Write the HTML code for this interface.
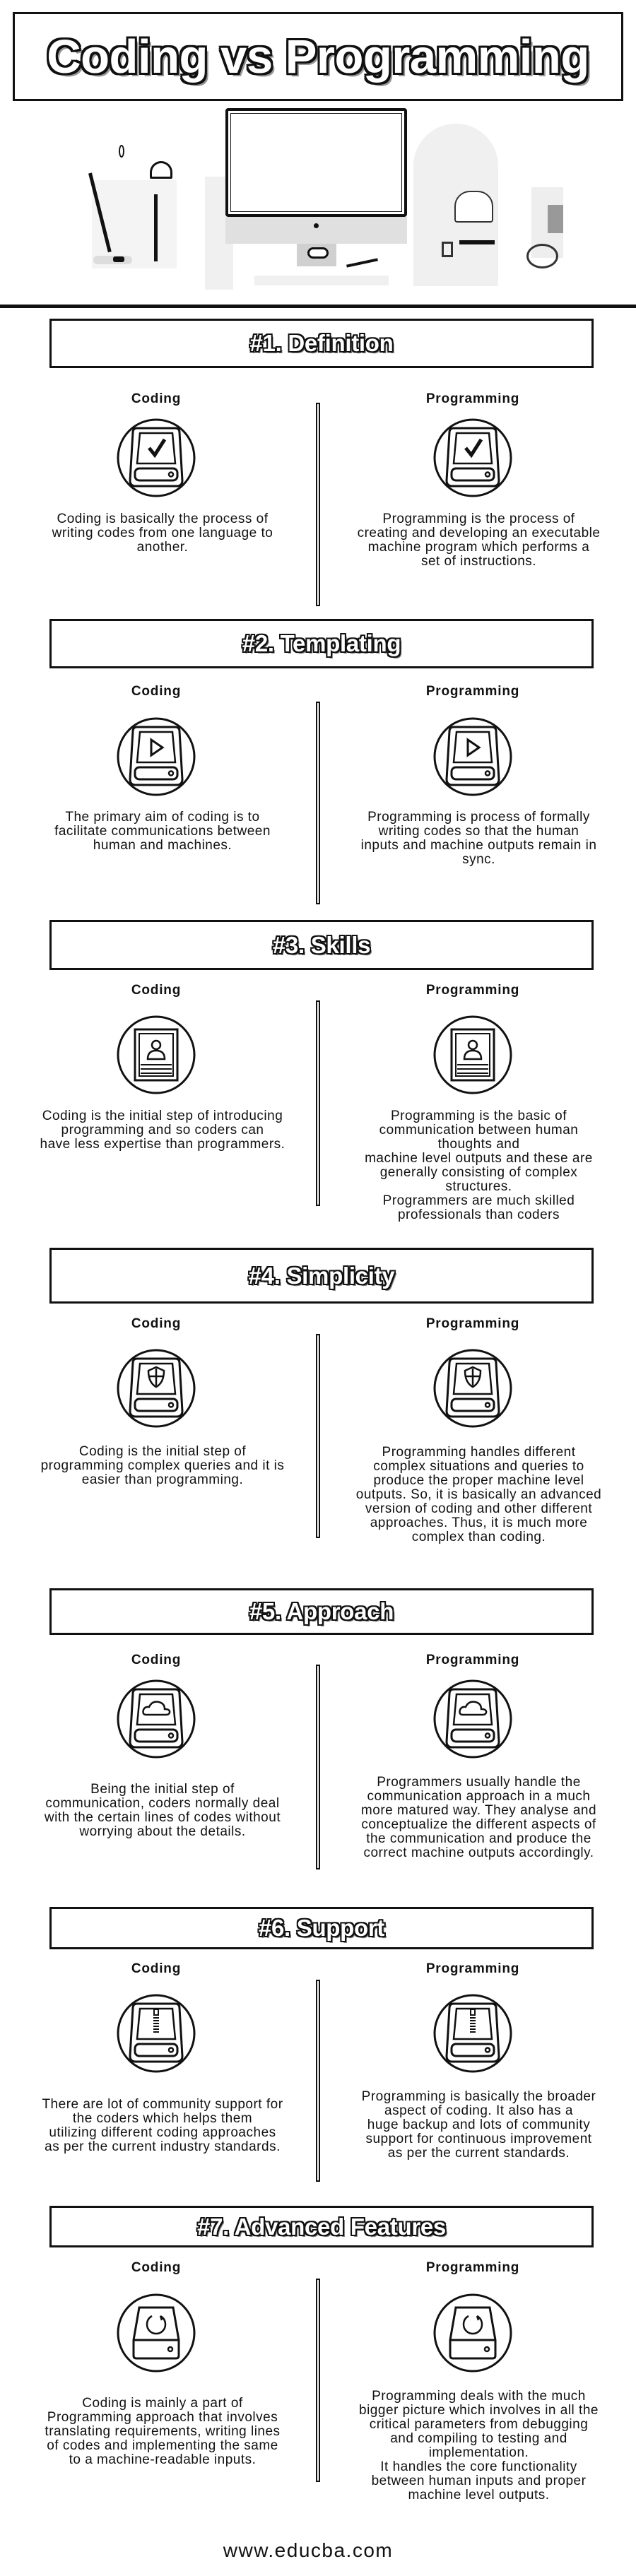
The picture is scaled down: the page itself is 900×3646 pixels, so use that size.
<!DOCTYPE html>
<html><head><meta charset="utf-8">
<style>
*{margin:0;padding:0;box-sizing:border-box}
body{width:900px;height:3646px;background:#fff;position:relative;overflow:hidden;font-family:"Liberation Sans",sans-serif;color:#111}
.abs{position:absolute}
.tbox{position:absolute;left:70px;width:770px;border:3px solid #111;display:flex;align-items:center;justify-content:center}
.ttl{font-weight:bold;font-size:33px;color:#fff;letter-spacing:-0.3px;
text-shadow:2px 0 #111,-2px 0 #111,0 2px #111,0 -2px #111,2px 2px #111,-2px -2px #111,2px -2px #111,-2px 2px #111,3px 3px #888}
.hdr{position:absolute;width:300px;text-align:center;font-weight:bold;font-size:19px;letter-spacing:0.8px;line-height:20px}
.hc{left:71px}.hp{left:519px}
.div{position:absolute;left:447px;width:6px;border:2px solid #111;background:#fff}
.txt{position:absolute;text-align:center;font-size:19px;letter-spacing:0.5px;line-height:20px;white-space:nowrap}
.tc{left:10px;width:440px}.tp{left:455px;width:445px}
svg.ic{position:absolute;width:116px;height:116px;overflow:visible}
.icc{left:163px}.icp{left:611px}
</style></head><body>
<svg width="0" height="0" style="position:absolute">
<defs>
<g id="drv" fill="none" stroke="#111">
<circle cx="0" cy="0" r="54" stroke-width="3"/>
<path d="M-27,-42 L27,-42 Q33,-42 33,-36 L37,32 Q37,40 29,40 L-29,40 Q-37,40 -37,32 L-33,-36 Q-33,-42 -27,-42 Z" stroke-width="3"/>
<path d="M-23,-35 L23,-35 L27,8 L-27,8 Z" stroke-width="2.5"/>
<rect x="-30" y="15" width="60" height="17" rx="6" stroke-width="3"/>
<circle cx="21" cy="23.5" r="3" stroke-width="2.5"/>
</g>
</defs>
</svg>

<!-- Title -->
<div class="abs" style="left:18px;top:17px;width:864px;height:126px;border:3px solid #111;display:flex;align-items:center;justify-content:center">
<span style="font-weight:bold;font-size:67px;color:#fff;letter-spacing:-0.5px;text-shadow:3px 0 #111,-3px 0 #111,0 3px #111,0 -3px #111,3px 3px #111,-3px -3px #111,3px -3px #111,-3px 3px #111,5px 5px #999">Coding vs Programming</span>
</div>

<!-- Illustration -->
<div class="abs" style="left:585px;top:175px;width:120px;height:230px;background:#f0f0f0;border-radius:60px 60px 0 0"></div>
<div class="abs" style="left:290px;top:250px;width:40px;height:160px;background:#f0f0f0"></div>
<div class="abs" style="left:130px;top:255px;width:120px;height:125px;background:#f4f4f4"></div>
<div class="abs" style="left:319px;top:153px;width:257px;height:154px;border:4px solid #111;border-radius:4px;background:#fff"></div>
<div class="abs" style="left:326px;top:160px;width:243px;height:140px;border:1.5px solid #111"></div>
<div class="abs" style="left:319px;top:307px;width:257px;height:38px;background:#e0e0e0"></div>
<div class="abs" style="left:444px;top:316px;width:7px;height:7px;border-radius:50%;background:#111"></div>
<div class="abs" style="left:420px;top:345px;width:56px;height:32px;background:#d0d0d0"></div>
<div class="abs" style="left:435px;top:350px;width:30px;height:16px;border:3px solid #111;border-radius:8px;background:#fff"></div>
<div class="abs" style="left:360px;top:390px;width:190px;height:14px;background:#f0f0f0"></div>
<div class="abs" style="left:490px;top:370px;width:45px;height:4px;background:#111;transform:rotate(-12deg)"></div>
<div class="abs" style="left:643px;top:270px;width:55px;height:45px;border:2px solid #333;border-radius:22px 22px 4px 4px;background:#fff"></div>
<div class="abs" style="left:650px;top:340px;width:50px;height:6px;background:#111"></div>
<div class="abs" style="left:625px;top:342px;width:16px;height:22px;border:3px solid #333"></div>
<div class="abs" style="left:752px;top:265px;width:45px;height:100px;background:#eee"></div>
<div class="abs" style="left:775px;top:290px;width:22px;height:40px;background:#999"></div>
<div class="abs" style="left:745px;top:345px;width:45px;height:35px;border:3px solid #333;border-radius:50%"></div>
<div class="abs" style="left:125px;top:245px;width:5px;height:115px;background:#111;transform:rotate(-14deg);transform-origin:top"></div>
<div class="abs" style="left:218px;top:275px;width:5px;height:95px;background:#111"></div>
<div class="abs" style="left:212px;top:228px;width:32px;height:25px;border:3px solid #111;border-radius:16px 16px 2px 2px"></div>
<div class="abs" style="left:132px;top:362px;width:55px;height:12px;background:#ddd;border-radius:6px"></div>
<div class="abs" style="left:160px;top:363px;width:16px;height:8px;background:#111;border-radius:3px"></div>
<div class="abs" style="left:168px;top:205px;width:8px;height:18px;border:2px solid #111;border-radius:50%"></div>

<div class="abs" style="left:0;top:431px;width:900px;height:5px;background:#111"></div>

<!-- S1 -->
<div class="tbox" style="top:451px;height:70px"><span class="ttl">#1. Definition</span></div>
<div class="hdr hc" style="top:555px">Coding</div>
<div class="hdr hp" style="top:555px">Programming</div>
<div class="div" style="top:570px;height:288px"></div>
<svg class="ic icc" style="top:590px" viewBox="-58 -58 116 116"><use href="#drv"/><path d="M-10,-14 L-2,-4 L12,-26" fill="none" stroke="#111" stroke-width="5"/></svg>
<svg class="ic icp" style="top:590px" viewBox="-58 -58 116 116"><use href="#drv"/><path d="M-10,-14 L-2,-4 L12,-26" fill="none" stroke="#111" stroke-width="5"/></svg>
<div class="txt tc" style="top:725px">Coding is basically the process of<br>writing codes from one language to<br>another.</div>
<div class="txt tp" style="top:725px">Programming is the process of<br>creating and developing an executable<br>machine program which performs a<br>set of instructions.</div>

<!-- S2 -->
<div class="tbox" style="top:876px;height:70px"><span class="ttl">#2. Templating</span></div>
<div class="hdr hc" style="top:969px">Coding</div>
<div class="hdr hp" style="top:969px">Programming</div>
<div class="div" style="top:993px;height:287px"></div>
<svg class="ic icc" style="top:1013px" viewBox="-58 -58 116 116"><use href="#drv"/><path d="M-7,-24 L9,-13 L-7,-2 Z" fill="none" stroke="#111" stroke-width="3"/></svg>
<svg class="ic icp" style="top:1013px" viewBox="-58 -58 116 116"><use href="#drv"/><path d="M-7,-24 L9,-13 L-7,-2 Z" fill="none" stroke="#111" stroke-width="3"/></svg>
<div class="txt tc" style="top:1147px">The primary aim of coding is to<br>facilitate communications between<br>human and machines.</div>
<div class="txt tp" style="top:1147px">Programming is process of formally<br>writing codes so that the human<br>inputs and machine outputs remain in<br>sync.</div>

<!-- S3 -->
<div class="tbox" style="top:1302px;height:71px"><span class="ttl">#3. Skills</span></div>
<div class="hdr hc" style="top:1392px">Coding</div>
<div class="hdr hp" style="top:1392px">Programming</div>
<div class="div" style="top:1416px;height:291px"></div>
<svg class="ic icc" style="top:1435px" viewBox="-58 -58 116 116"><circle r="54" fill="none" stroke="#111" stroke-width="3"/><rect x="-30" y="-36" width="60" height="72" fill="none" stroke="#111" stroke-width="3"/><rect x="-24" y="-30" width="48" height="60" fill="none" stroke="#111" stroke-width="2"/><circle cx="0" cy="-14" r="6" fill="none" stroke="#111" stroke-width="2.5"/><path d="M-12,6 Q-12,-6 0,-6 Q12,-6 12,6 Z" fill="none" stroke="#111" stroke-width="2.5"/><path d="M-22,14 H22 M-22,20 H22 M-22,26 H22" stroke="#111" stroke-width="2"/></svg>
<svg class="ic icp" style="top:1435px" viewBox="-58 -58 116 116"><circle r="54" fill="none" stroke="#111" stroke-width="3"/><rect x="-30" y="-36" width="60" height="72" fill="none" stroke="#111" stroke-width="3"/><rect x="-24" y="-30" width="48" height="60" fill="none" stroke="#111" stroke-width="2"/><circle cx="0" cy="-14" r="6" fill="none" stroke="#111" stroke-width="2.5"/><path d="M-12,6 Q-12,-6 0,-6 Q12,-6 12,6 Z" fill="none" stroke="#111" stroke-width="2.5"/><path d="M-22,14 H22 M-22,20 H22 M-22,26 H22" stroke="#111" stroke-width="2"/></svg>
<div class="txt tc" style="top:1570px">Coding is the initial step of introducing<br>programming and so coders can<br>have less expertise than programmers.</div>
<div class="txt tp" style="top:1570px">Programming is the basic of<br>communication between human<br>thoughts and<br>machine level outputs and these are<br>generally consisting of complex<br>structures.<br>Programmers are much skilled<br>professionals than coders</div>

<!-- S4 -->
<div class="tbox" style="top:1766px;height:79px"><span class="ttl">#4. Simplicity</span></div>
<div class="hdr hc" style="top:1864px">Coding</div>
<div class="hdr hp" style="top:1864px">Programming</div>
<div class="div" style="top:1888px;height:289px"></div>
<svg class="ic icc" style="top:1907px" viewBox="-58 -58 116 116"><use href="#drv"/><path d="M0,-30 L11,-25 Q11,-8 0,-2 Q-11,-8 -11,-25 Z M0,-28 V-4 M-10,-17 H10" fill="none" stroke="#111" stroke-width="2.5"/></svg>
<svg class="ic icp" style="top:1907px" viewBox="-58 -58 116 116"><use href="#drv"/><path d="M0,-30 L11,-25 Q11,-8 0,-2 Q-11,-8 -11,-25 Z M0,-28 V-4 M-10,-17 H10" fill="none" stroke="#111" stroke-width="2.5"/></svg>
<div class="txt tc" style="top:2045px">Coding is the initial step of<br>programming complex queries and it is<br>easier than programming.</div>
<div class="txt tp" style="top:2046px">Programming handles different<br>complex situations and queries to<br>produce the proper machine level<br>outputs. So, it is basically an advanced<br>version of coding and other different<br>approaches. Thus, it is much more<br>complex than coding.</div>

<!-- S5 -->
<div class="tbox" style="top:2248px;height:66px"><span class="ttl">#5. Approach</span></div>
<div class="hdr hc" style="top:2340px">Coding</div>
<div class="hdr hp" style="top:2340px">Programming</div>
<div class="div" style="top:2356px;height:290px"></div>
<svg class="ic icc" style="top:2375px" viewBox="-58 -58 116 116"><use href="#drv"/><path d="M-14,-6 Q-20,-6 -18,-13 Q-16,-18 -10,-17 Q-6,-26 4,-24 Q12,-22 12,-14 Q20,-14 19,-9 Q18,-6 14,-6 Z" fill="none" stroke="#111" stroke-width="2.5"/></svg>
<svg class="ic icp" style="top:2375px" viewBox="-58 -58 116 116"><use href="#drv"/><path d="M-14,-6 Q-20,-6 -18,-13 Q-16,-18 -10,-17 Q-6,-26 4,-24 Q12,-22 12,-14 Q20,-14 19,-9 Q18,-6 14,-6 Z" fill="none" stroke="#111" stroke-width="2.5"/></svg>
<div class="txt tc" style="top:2523px">Being the initial step of<br>communication, coders normally deal<br>with the certain lines of codes without<br>worrying about the details.</div>
<div class="txt tp" style="top:2513px">Programmers usually handle the<br>communication approach in a much<br>more matured way. They analyse and<br>conceptualize the different aspects of<br>the communication and produce the<br>correct machine outputs accordingly.</div>

<!-- S6 -->
<div class="tbox" style="top:2699px;height:60px"><span class="ttl">#6. Support</span></div>
<div class="hdr hc" style="top:2777px">Coding</div>
<div class="hdr hp" style="top:2777px">Programming</div>
<div class="div" style="top:2802px;height:286px"></div>
<svg class="ic icc" style="top:2820px" viewBox="-58 -58 116 116"><use href="#drv"/><path d="M-3,-34 H3 V-26 H-3 Z M-4,-22 H4 M-4,-18 H4 M-4,-14 H4 M-4,-10 H4 M-4,-6 H4 M-4,-2 H4" stroke="#111" stroke-width="2" fill="none"/></svg>
<svg class="ic icp" style="top:2820px" viewBox="-58 -58 116 116"><use href="#drv"/><path d="M-3,-34 H3 V-26 H-3 Z M-4,-22 H4 M-4,-18 H4 M-4,-14 H4 M-4,-10 H4 M-4,-6 H4 M-4,-2 H4" stroke="#111" stroke-width="2" fill="none"/></svg>
<div class="txt tc" style="top:2969px">There are lot of community support for<br>the coders which helps them<br>utilizing different coding approaches<br>as per the current industry standards.</div>
<div class="txt tp" style="top:2958px">Programming is basically the broader<br>aspect of coding. It also has a<br>huge backup and lots of community<br>support for continuous improvement<br>as per the current standards.</div>

<!-- S7 -->
<div class="tbox" style="top:3122px;height:59px"><span class="ttl">#7. Advanced Features</span></div>
<div class="hdr hc" style="top:3200px">Coding</div>
<div class="hdr hp" style="top:3200px">Programming</div>
<div class="div" style="top:3225px;height:288px"></div>
<svg class="ic icc" style="top:3244px" viewBox="-58 -58 116 116"><circle r="54" fill="none" stroke="#111" stroke-width="3"/><path d="M-24,-36 H24 L32,10 V32 Q32,36 28,36 H-28 Q-32,36 -32,32 V10 Z M-32,10 H32" fill="none" stroke="#111" stroke-width="3"/><circle cx="20" cy="23" r="3" fill="none" stroke="#111" stroke-width="2.5"/><path d="M-6,-24 Q-13,-20 -13,-12 A13,13 0 0 0 13,-12 Q13,-20 6,-24 M6,-24 L8,-18" fill="none" stroke="#111" stroke-width="2.5"/></svg>
<svg class="ic icp" style="top:3244px" viewBox="-58 -58 116 116"><circle r="54" fill="none" stroke="#111" stroke-width="3"/><path d="M-24,-36 H24 L32,10 V32 Q32,36 28,36 H-28 Q-32,36 -32,32 V10 Z M-32,10 H32" fill="none" stroke="#111" stroke-width="3"/><circle cx="20" cy="23" r="3" fill="none" stroke="#111" stroke-width="2.5"/><path d="M-6,-24 Q-13,-20 -13,-12 A13,13 0 0 0 13,-12 Q13,-20 6,-24 M6,-24 L8,-18" fill="none" stroke="#111" stroke-width="2.5"/></svg>
<div class="txt tc" style="top:3392px">Coding is mainly a part of<br>Programming approach that involves<br>translating requirements, writing lines<br>of codes and implementing the same<br>to a machine-readable inputs.</div>
<div class="txt tp" style="top:3382px">Programming deals with the much<br>bigger picture which involves in all the<br>critical parameters from debugging<br>and compiling to testing and<br>implementation.<br>It handles the core functionality<br>between human inputs and proper<br>machine level outputs.</div>

<div class="abs" style="left:0;top:3594px;width:872px;text-align:center;font-size:28px;letter-spacing:1.5px">www.educba.com</div>
</body></html>
